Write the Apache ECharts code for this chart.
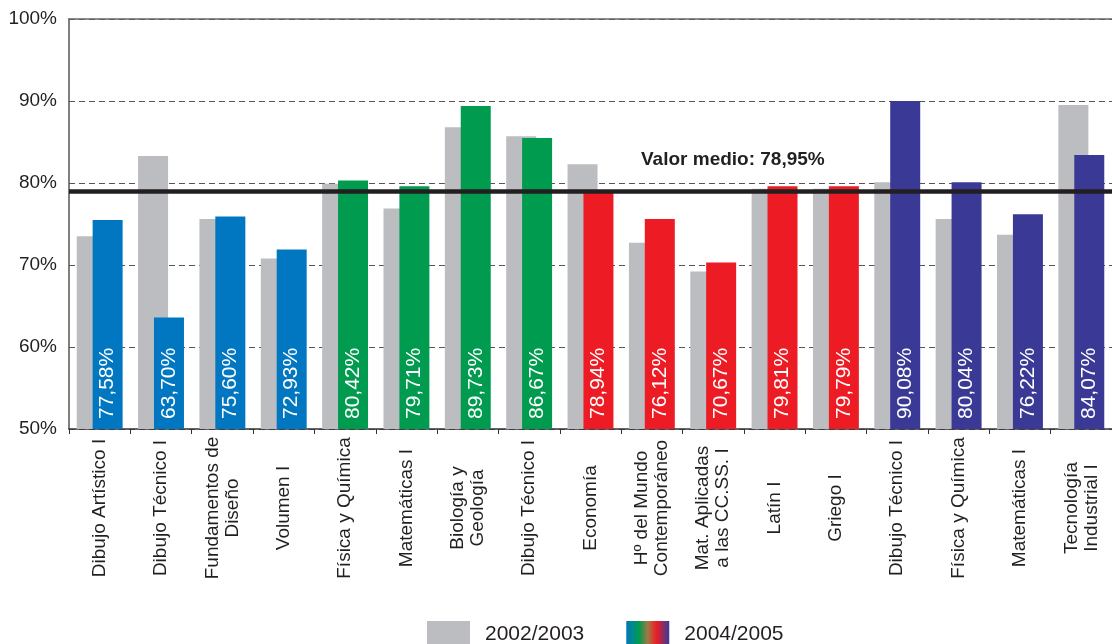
<!DOCTYPE html>
<html>

<head>
    <meta charset="UTF-8">
    <title>Valor medio por materia</title>
    <script src="https://cdn.jsdelivr.net/npm/echarts@6.0.0/dist/echarts.min.js"></script>
    <style>
        html, body { margin: 0; padding: 0; background: #fff; }
    </style>
</head>

<body>
    <div id="main" style="width: 1112px; height: 644px;"></div>
    <script>
        // materias (eje x)
        const categories = [
            'Dibujo Artístico I', 'Dibujo Técnico I', 'Fundamentos de\nDiseño', 'Volumen I',
            'Física y Química', 'Matemáticas I', 'Biología y\nGeología', 'Dibujo Técnico I',
            'Economía', 'Hº del Mundo\nContemporáneo', 'Mat. Aplicadas\na las CC.SS. I', 'Latín I',
            'Griego I', 'Dibujo Técnico I', 'Física y Química', 'Matemáticas I', 'Tecnología\nIndustrial I'
        ];

        // alturas de las barras
        const values2003 = [73.5, 83.3, 75.6, 70.8, 79.9, 76.9, 86.8, 85.7, 82.3, 72.7, 69.2, 79.3, 79.3, 80.1, 75.6, 73.7, 89.5];
        const values2005 = [75.5, 63.6, 75.9, 71.9, 80.3, 79.6, 89.4, 85.5, 79.0, 75.6, 70.3, 79.6, 79.6, 90.0, 80.1, 76.2, 83.4];

        // textos impresos dentro de las barras 2004/2005
        const labels2005 = [
            '77,58%', '63,70%', '75,60%', '72,93%', '80,42%', '79,71%', '89,73%', '86,67%',
            '78,94%', '76,12%', '70,67%', '79,81%', '79,79%', '90,08%', '80,04%', '76,22%', '84,07%'
        ];

        const meanValue = 78.95;
        const meanText = 'Valor medio: 78,95%';

        // colores por grupo de modalidad
        const BLUE = '#0077c0', GREEN = '#009b4f', RED = '#ed1c24', NAVY = '#3a3a96';
        const barColors = [
            BLUE, BLUE, BLUE, BLUE,
            GREEN, GREEN, GREEN, GREEN,
            RED, RED, RED, RED, RED,
            NAVY, NAVY, NAVY, NAVY
        ];
        const GRAY = '#bcbdc0';
        const TEXT = '#231f20';
        const FONT = 'Liberation Sans, Arial, sans-serif';

        const option = {
            animation: false,
            textStyle: { fontFamily: FONT },
            title: {
                text: meanText,
                left: 636,
                top: 145,
                textStyle: { fontSize: 19, fontWeight: 'bold', color: TEXT, fontFamily: FONT }
            },
            legend: {
                left: 427,
                top: 621,
                padding: 0,
                itemWidth: 43,
                itemHeight: 26,
                itemGap: 42,
                textStyle: { fontSize: 21, color: TEXT, padding: [0, 0, 0, 10] },
                data: [
                    { name: '2002/2003', icon: 'rect', itemStyle: { color: GRAY } },
                    {
                        name: '2004/2005', icon: 'rect',
                        itemStyle: {
                            color: new echarts.graphic.LinearGradient(0, 0, 1, 0, [
                                { offset: 0, color: BLUE },
                                { offset: 0.3, color: GREEN },
                                { offset: 0.5, color: '#a07a45' },
                                { offset: 0.7, color: RED },
                                { offset: 1, color: NAVY }
                            ])
                        }
                    }
                ]
            },
            grid: {
                left: 69,
                right: -7,
                top: 19,
                bottom: 215
            },
            xAxis: [
                {
                    type: 'category',
                    data: categories,
                    axisLine: { lineStyle: { color: '#333', width: 1.5 } },
                    axisTick: { show: true, length: 5, lineStyle: { color: '#333' } },
                    axisLabel: {
                        rotate: 90,
                        align: 'center',
                        verticalAlign: 'middle',
                        margin: 79,
                        fontSize: 19,
                        lineHeight: 20,
                        color: TEXT,
                        interval: 0
                    }
                },
                {
                    type: 'category',
                    position: 'top',
                    data: categories,
                    axisLine: { show: true, lineStyle: { color: '#666', width: 1.5 } },
                    axisTick: { show: false },
                    axisLabel: { show: false }
                }
            ],
            yAxis: {
                type: 'value',
                min: 50,
                max: 100,
                interval: 10,
                axisLine: { show: true, lineStyle: { color: '#555', width: 1.5 } },
                axisTick: { show: false },
                axisLabel: {
                    formatter: '{value}%',
                    fontSize: 19,
                    color: TEXT,
                    margin: 12
                },
                splitLine: {
                    show: true,
                    lineStyle: { color: '#555', type: [6, 4], width: 1.2 }
                }
            },
            series: [
                {
                    name: '2002/2003',
                    type: 'bar',
                    data: values2003,
                    barWidth: 30,
                    barGap: '-47%',
                    itemStyle: { color: GRAY }
                },
                {
                    name: '2004/2005',
                    type: 'bar',
                    data: values2005,
                    barWidth: 30,
                    barGap: '-47%',
                    itemStyle: {
                        color: function (params) {
                            return barColors[params.dataIndex];
                        }
                    },
                    label: {
                        show: true,
                        position: 'insideBottom',
                        distance: 10,
                        rotate: 90,
                        align: 'left',
                        verticalAlign: 'middle',
                        color: '#fff',
                        fontSize: 21,
                        formatter: function (params) {
                            return labels2005[params.dataIndex];
                        }
                    },
                    markLine: {
                        silent: true,
                        symbol: 'none',
                        label: { show: false },
                        lineStyle: { color: TEXT, width: 4.5, type: 'solid' },
                        z: 10,
                        data: [{ yAxis: meanValue }]
                    }
                }
            ]
        };

        const myChart = echarts.init(document.getElementById('main'));
        myChart.setOption(option);

        window.addEventListener('resize', function () {
            myChart.resize();
        });
    </script>
</body>

</html>
